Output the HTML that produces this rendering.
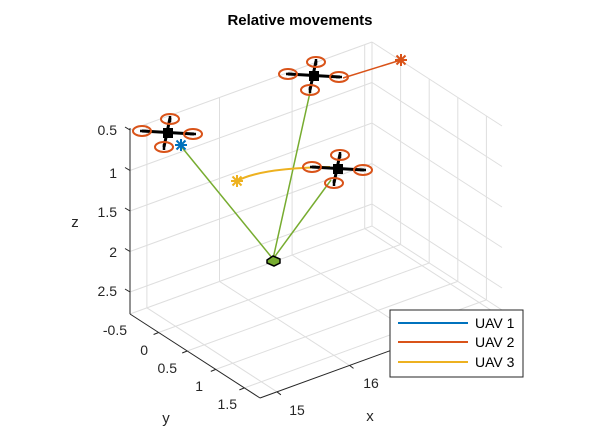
<!DOCTYPE html>
<html><head><meta charset="utf-8"><style>
html,body{margin:0;padding:0;background:#fff;}
svg{display:block;font-family:"Liberation Sans",sans-serif;}
</style></head><body>
<svg width="600" height="445" viewBox="0 0 600 445" xmlns="http://www.w3.org/2000/svg">
<rect width="600" height="445" fill="#fff"/>
<g stroke="#dedede" stroke-width="1" fill="none">
<line x1="146.9" y1="307.8" x2="146.9" y2="123.8"/>
<line x1="219.5" y1="281.4" x2="219.5" y2="97.4"/>
<line x1="292.1" y1="255" x2="292.1" y2="71"/>
<line x1="364.7" y1="228.6" x2="364.7" y2="44.6"/>
<line x1="130" y1="130" x2="372" y2="42"/>
<line x1="130" y1="170.5" x2="372" y2="82.5"/>
<line x1="130" y1="211" x2="372" y2="123"/>
<line x1="130" y1="251.5" x2="372" y2="163.5"/>
<line x1="130" y1="292" x2="372" y2="204"/>
<line x1="130" y1="314" x2="372" y2="226"/>
<line x1="372" y1="226" x2="372" y2="42"/>
<line x1="400.6" y1="244.5" x2="400.6" y2="60.5"/>
<line x1="429.2" y1="263" x2="429.2" y2="79"/>
<line x1="457.8" y1="281.4" x2="457.8" y2="97.4"/>
<line x1="486.4" y1="299.9" x2="486.4" y2="115.9"/>
<line x1="372" y1="42" x2="502" y2="126"/>
<line x1="372" y1="82.5" x2="502" y2="166.5"/>
<line x1="372" y1="123" x2="502" y2="207"/>
<line x1="372" y1="163.5" x2="502" y2="247.5"/>
<line x1="372" y1="204" x2="502" y2="288"/>
<line x1="146.9" y1="307.8" x2="276.9" y2="391.8"/>
<line x1="219.5" y1="281.4" x2="349.5" y2="365.4"/>
<line x1="292.1" y1="255" x2="422.1" y2="339"/>
<line x1="364.7" y1="228.6" x2="494.7" y2="312.6"/>
<line x1="372" y1="226" x2="502" y2="310"/>
<line x1="158.6" y1="332.5" x2="400.6" y2="244.5"/>
<line x1="187.2" y1="351" x2="429.2" y2="263"/>
<line x1="215.8" y1="369.4" x2="457.8" y2="281.4"/>
<line x1="244.4" y1="387.9" x2="486.4" y2="299.9"/>
</g>
<g stroke="#262626" stroke-width="1" fill="none">
<line x1="130" y1="128" x2="130" y2="314"/>
<line x1="130" y1="314" x2="260" y2="398"/>
<line x1="260" y1="398" x2="502" y2="310"/>
<line x1="130" y1="130" x2="125" y2="127"/>
<line x1="130" y1="170.5" x2="125" y2="167.5"/>
<line x1="130" y1="211" x2="125" y2="208"/>
<line x1="130" y1="251.5" x2="125" y2="248.5"/>
<line x1="130" y1="292" x2="125" y2="289"/>
<line x1="158.6" y1="332.5" x2="153.6" y2="334.5"/>
<line x1="187.2" y1="351" x2="182.2" y2="353"/>
<line x1="215.8" y1="369.4" x2="210.8" y2="371.4"/>
<line x1="244.4" y1="387.9" x2="239.4" y2="389.9"/>
<line x1="276.9" y1="391.8" x2="280.9" y2="394.8"/>
<line x1="349.5" y1="365.4" x2="353.5" y2="368.4"/>
<line x1="422.1" y1="339" x2="426.1" y2="342"/>
<line x1="494.7" y1="312.6" x2="498.7" y2="315.6"/>
</g>
<g font-size="14" fill="#262626">
<text x="117" y="135" text-anchor="end">0.5</text>
<text x="117" y="178" text-anchor="end">1</text>
<text x="117" y="217" text-anchor="end">1.5</text>
<text x="117" y="257" text-anchor="end">2</text>
<text x="117" y="296" text-anchor="end">2.5</text>
<text x="75" y="227" text-anchor="middle" font-size="15">z</text>
<text x="127" y="335" text-anchor="end">-0.5</text>
<text x="148" y="355" text-anchor="end">0</text>
<text x="177" y="373" text-anchor="end">0.5</text>
<text x="203" y="391" text-anchor="end">1</text>
<text x="237" y="409" text-anchor="end">1.5</text>
<text x="166" y="423" text-anchor="middle" font-size="15">y</text>
<text x="297" y="415" text-anchor="middle">15</text>
<text x="371" y="388" text-anchor="middle">16</text>
<text x="515" y="334" text-anchor="middle">18</text>
<text x="370" y="421" text-anchor="middle" font-size="15">x</text>
</g>
<text x="300" y="25" text-anchor="middle" font-size="15" font-weight="bold" fill="#000">Relative movements</text>
<g stroke="#77ac30" stroke-width="1.5" fill="none">
<line x1="273" y1="259" x2="180" y2="145"/>
<line x1="273" y1="259" x2="311" y2="88"/>
<line x1="273" y1="259" x2="331" y2="180"/>
</g>
<path d="M267 260 L273 256 L280 259 L280 263 L274 266 L267 263 Z" fill="#77ac30" stroke="#000" stroke-width="1.5"/>
<line x1="343" y1="78" x2="401" y2="60" stroke="#d95319" stroke-width="1.5"/>
<path d="M237 181 Q260 168 330 167" stroke="#edb120" stroke-width="2" fill="none"/>
<defs>
<g id="dr">
<line x1="-26" y1="-2" x2="26" y2="1" stroke="#000" stroke-width="3"/>
<line x1="2" y1="-15" x2="-4" y2="14" stroke="#000" stroke-width="3"/>
<rect x="-5" y="-5" width="10" height="10" fill="#000"/>
<g stroke="#d95319" stroke-width="2" fill="none">
<ellipse cx="-26" cy="-2" rx="9" ry="5"/>
<ellipse cx="25" cy="1" rx="9" ry="5"/>
<ellipse cx="2" cy="-14" rx="9" ry="5"/>
<ellipse cx="-4" cy="14" rx="9" ry="5"/>
</g>
<g stroke="#000" stroke-width="2.5">
<line x1="-28" y1="-2" x2="-22" y2="-2"/>
<line x1="22" y1="1" x2="28" y2="1"/>
<line x1="2" y1="-17" x2="2" y2="-11"/>
<line x1="-4" y1="11" x2="-4" y2="17"/>
</g>
</g>
<g id="st" stroke-width="2">
<line x1="-6" y1="0" x2="6" y2="0"/>
<line x1="0" y1="-6" x2="0" y2="6"/>
<line x1="-4.5" y1="-4.5" x2="4.5" y2="4.5"/>
<line x1="-4.5" y1="4.5" x2="4.5" y2="-4.5"/>
</g>
</defs>
<use href="#dr" x="168" y="133"/>
<use href="#dr" x="314" y="76"/>
<use href="#dr" x="338" y="169"/>
<use href="#st" x="181" y="145" stroke="#0072bd"/>
<use href="#st" x="401" y="60" stroke="#d95319"/>
<use href="#st" x="237" y="181" stroke="#edb120"/>
<rect x="390" y="310" width="133" height="67" fill="#fff" stroke="#262626" stroke-width="1"/>
<line x1="398" y1="323" x2="468" y2="323" stroke="#0072bd" stroke-width="2"/>
<line x1="398" y1="342" x2="468" y2="342" stroke="#d95319" stroke-width="2"/>
<line x1="398" y1="362" x2="468" y2="362" stroke="#edb120" stroke-width="2"/>
<g font-size="14" fill="#000">
<text x="475" y="328">UAV 1</text>
<text x="475" y="347">UAV 2</text>
<text x="475" y="367">UAV 3</text>
</g>
</svg>
</body></html>
